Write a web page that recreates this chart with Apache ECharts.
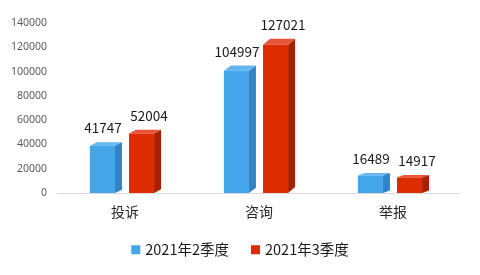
<!DOCTYPE html>
<html><head><meta charset="utf-8">
<script src="https://cdn.jsdelivr.net/npm/echarts@6/dist/echarts.min.js"></script>
<style>html,body{margin:0;padding:0;background:#fff}#c{width:480px;height:275px}</style>
</head><body><div id="c"></div>
<script>
const categories = ['投诉', '咨询', '举报'];
const seriesNames = ['2021年2季度', '2021年3季度'];
const q2Values = [41747, 104997, 16489];
const q3Values = [52004, 127021, 14917];
const yMax = 140000;
const yInterval = 20000;

const palettes = [
  {front: '#45A5EA', side: '#3483C2', top: '#63B6F0'},
  {front: '#DC2C00', side: '#A82000', top: '#E6553A'}
];
const offsets = [-0.262, 0.03];
const labelShift = [-3, 4];

function makeRender(si) {
  return function (params, api) {
    const cat = api.value(0), val = api.value(1);
    const base = api.coord([cat, 0]);
    const top = api.coord([cat, val]);
    const band = api.size([1, 0])[0];
    const w = band * 0.187, dx = 7;
    const x0 = base[0] + band * offsets[si];
    const y0 = base[1], yv = top[1];
    const dy = 2 + 0.026 * (y0 - yv);
    const yf = yv + dy;
    const p = palettes[si];
    return {
      type: 'group',
      children: [
        {type: 'polygon', shape: {points: [[x0 + w, yf], [x0 + w + dx, yv], [x0 + w + dx, y0 - dy], [x0 + w, y0]]}, style: {fill: p.side}},
        {type: 'polygon', shape: {points: [[x0, yf], [x0 + w, yf], [x0 + w + dx, yv], [x0 + dx, yv]]}, style: {fill: p.top}},
        {type: 'rect', shape: {x: x0, y: yf, width: w, height: y0 - yf}, style: {fill: p.front}},
        {type: 'text', x: x0 + (w + dx) / 2 + labelShift[si], y: yv - 14, style: {text: String(val), fill: '#1a1a1a', font: '13.5px "Noto Sans CJK SC", sans-serif', align: 'center', verticalAlign: 'middle'}}
      ]
    };
  };
}

const chart = echarts.init(document.getElementById('c'));
chart.setOption({
  animation: false,
  grid: {left: 58, right: 20, top: 23, bottom: 82},
  legend: {
    data: seriesNames, bottom: 13, left: 'center', icon: 'rect', itemWidth: 9, itemHeight: 9, itemGap: 22,
    textStyle: {fontSize: 14.5, color: '#1a1a1a', fontFamily: '"Noto Sans CJK SC", sans-serif'}
  },
  xAxis: {
    type: 'category', data: categories,
    axisLine: {lineStyle: {color: '#D9D9D9', width: 1}}, axisTick: {show: false},
    axisLabel: {fontSize: 14, color: '#262626', margin: 12, fontFamily: '"Noto Sans CJK SC", sans-serif'}
  },
  yAxis: {
    type: 'value', min: 0, max: yMax, interval: yInterval,
    axisLine: {show: false}, axisTick: {show: false}, splitLine: {show: false},
    axisLabel: {fontSize: 10.5, color: '#595959', margin: 11, fontFamily: '"Noto Sans", sans-serif', formatter: v => String(v)}
  },
  series: [
    {name: seriesNames[0], type: 'custom', itemStyle: {color: palettes[0].front}, renderItem: makeRender(0), encode: {x: 0, y: 1}, data: q2Values.map((v, i) => [i, v])},
    {name: seriesNames[1], type: 'custom', itemStyle: {color: palettes[1].front}, renderItem: makeRender(1), encode: {x: 0, y: 1}, data: q3Values.map((v, i) => [i, v])}
  ]
});
</script></body></html>
